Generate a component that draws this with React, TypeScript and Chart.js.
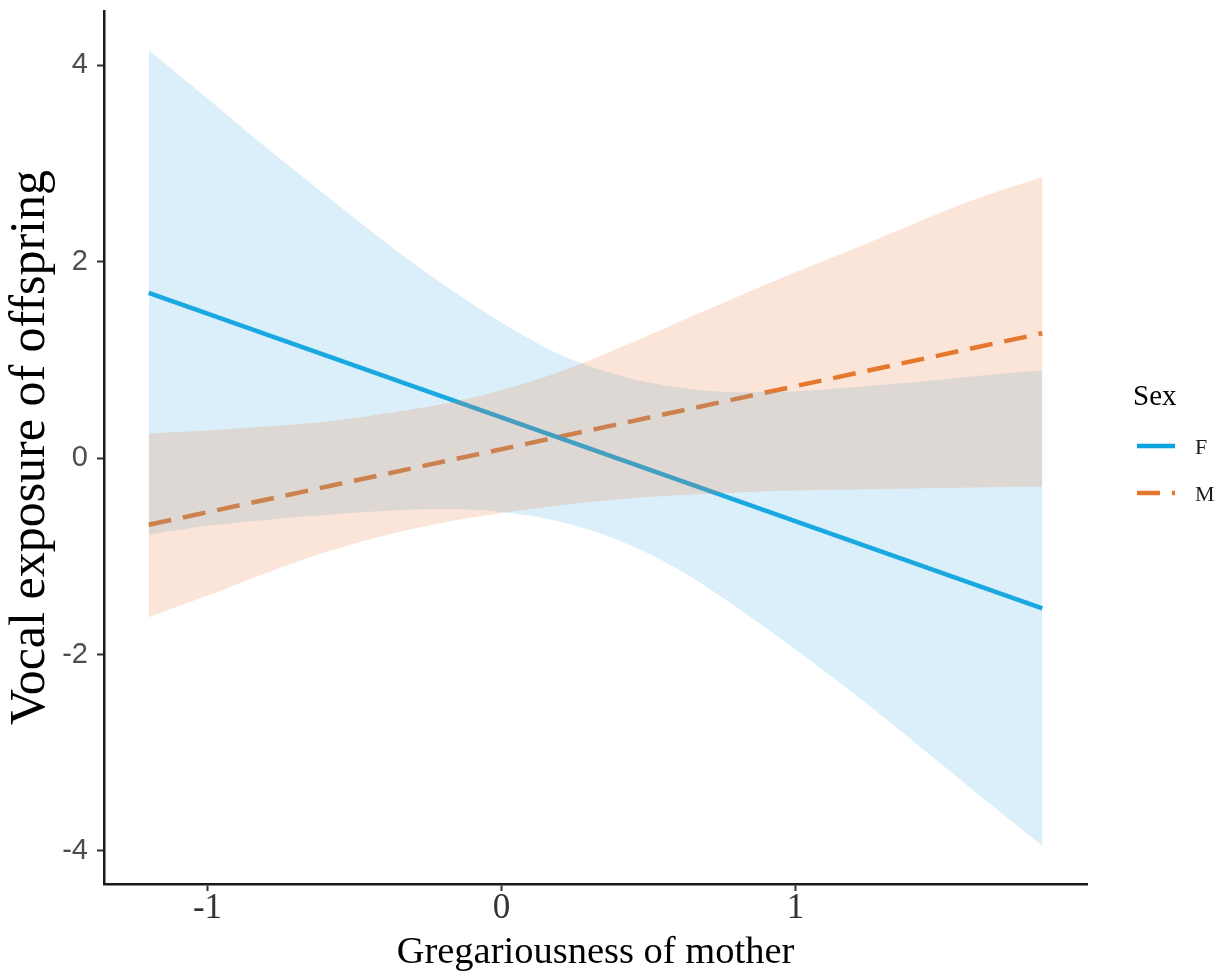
import React, { useEffect, useRef } from "react";
import { Chart, registerables } from "chart.js";

Chart.register(...registerables);

// ---- Data ----
const bandX = [-1.2, -1.0, -0.8, -0.6, -0.4, -0.2, 0.0, 0.2, 0.4, 0.6, 0.8, 1.0, 1.2, 1.4, 1.6, 1.84];
const fUpper = [4.15, 3.66, 3.16, 2.68, 2.21, 1.77, 1.38, 1.05, 0.84, 0.72, 0.67, 0.68, 0.72, 0.77, 0.83, 0.89];
const fLower = [-0.78, -0.69, -0.63, -0.58, -0.54, -0.52, -0.55, -0.65, -0.84, -1.13, -1.52, -1.95, -2.4, -2.88, -3.37, -3.95];
const mUpper = [0.25, 0.28, 0.32, 0.37, 0.45, 0.55, 0.69, 0.88, 1.12, 1.38, 1.64, 1.89, 2.13, 2.38, 2.62, 2.86];
const mLower = [-1.62, -1.4, -1.17, -0.96, -0.79, -0.66, -0.56, -0.48, -0.42, -0.38, -0.35, -0.33, -0.32, -0.31, -0.3, -0.29];

const lineX = [-1.2, 1.84];
const fLine = [1.68, -1.53];
const mLine = [-0.68, 1.27];

const xTicks = [-1, 0, 1];
const yTicks = [-4, -2, 0, 2, 4];
const xRange = [-1.352, 1.992];
const yRange = [-4.336, 4.55];

const legendTitle = "Sex";
const legendLabels = ["F", "M"];
const xTitle = "Gregariousness of mother";
const yTitle = "Vocal exposure of offspring";

// ---- Styles ----
const BLUE = "#0aa5df";
const ORANGE = "#e5782a";
const BLUE_FILL = "rgba(86,180,233,0.22)";
const ORANGE_FILL = "rgba(235,120,60,0.2)";
const DASH = [23, 12];
const SERIF = '"Liberation Serif", "Times New Roman", serif';
const SANS = '"Liberation Sans", Arial, sans-serif';

const pts = (xs: number[], ys: number[]) => xs.map((x, i) => ({ x, y: ys[i] }));

const zeroPad = (s: any) => {
  s.paddingTop = 0;
  s.paddingBottom = 0;
  s.paddingLeft = 0;
  s.paddingRight = 0;
};

export default function App() {
  const ref = useRef<HTMLCanvasElement>(null);

  useEffect(() => {
    const canvas = ref.current;
    if (!canvas) return;

    const legendPlugin = {
      id: "sexLegend",
      afterDraw(chart: any) {
        const ctx = chart.ctx as CanvasRenderingContext2D;
        const left = chart.chartArea.right + 46;
        ctx.save();
        ctx.textAlign = "left";
        ctx.textBaseline = "middle";
        ctx.fillStyle = "#000";
        ctx.font = `29px ${SERIF}`;
        ctx.fillText(legendTitle, left, 397);
        const keyY = [446, 493];
        const colors = [BLUE, ORANGE];
        const dashes = [[], DASH];
        legendLabels.forEach((lab, i) => {
          ctx.save();
          ctx.strokeStyle = colors[i];
          ctx.lineWidth = 4.5;
          ctx.setLineDash(dashes[i] as number[]);
          ctx.beginPath();
          ctx.moveTo(left + 4, keyY[i]);
          ctx.lineTo(left + 42, keyY[i]);
          ctx.stroke();
          ctx.restore();
          ctx.fillStyle = "#1a1a1a";
          ctx.font = `22px ${SERIF}`;
          ctx.fillText(lab, left + 62, keyY[i] + 2);
        });
        ctx.restore();
      },
    };

    const band = {
      pointRadius: 0,
      borderWidth: 0,
      borderColor: "transparent",
      cubicInterpolationMode: "monotone" as const,
    };

    const chart = new Chart(canvas, {
      type: "line",
      data: {
        datasets: [
          {
            label: "F",
            data: pts(lineX, fLine),
            borderColor: BLUE,
            borderWidth: 4.5,
            pointRadius: 0,
            fill: false,
            order: 3,
          },
          {
            label: "M",
            data: pts(lineX, mLine),
            borderColor: ORANGE,
            borderWidth: 4.5,
            borderDash: DASH,
            pointRadius: 0,
            fill: false,
            order: 3,
          },
          { label: "F lower", data: pts(bandX, fLower), ...band, fill: false, order: 2 },
          { label: "F upper", data: pts(bandX, fUpper), ...band, fill: "-1", backgroundColor: BLUE_FILL, order: 2 },
          { label: "M lower", data: pts(bandX, mLower), ...band, fill: false, order: 1 },
          { label: "M upper", data: pts(bandX, mUpper), ...band, fill: "-1", backgroundColor: ORANGE_FILL, order: 1 },
        ],
      },
      options: {
        animation: false,
        responsive: false,
        devicePixelRatio: 1,
        events: [],
        layout: { autoPadding: false, padding: { left: 0, right: 142, top: 11, bottom: 0 } },
        plugins: {
          legend: { display: false },
          tooltip: { enabled: false },
        },
        scales: {
          x: {
            type: "linear",
            min: xRange[0],
            max: xRange[1],
            afterBuildTicks: (s: any) => {
              s.ticks = xTicks.map((v) => ({ value: v }));
            },
            afterFit: (s: any) => {
              s.height = 94;
              zeroPad(s);
            },
            grid: {
              display: true,
              drawOnChartArea: false,
              drawTicks: true,
              tickLength: 7,
              tickWidth: 2,
              tickColor: "#333",
            },
            border: { display: true, color: "#1a1a1a", width: 2.5 },
            ticks: {
              color: "#333",
              padding: 0,
              maxRotation: 0,
              font: { family: SERIF, size: 35, lineHeight: 1 },
              callback: (v: any) => String(v),
            },
            title: {
              display: true,
              text: xTitle,
              color: "#000",
              font: { family: SERIF, size: 38.5, lineHeight: 1 },
              padding: { top: 0, bottom: 6 },
            },
          },
          y: {
            type: "linear",
            min: yRange[0],
            max: yRange[1],
            afterBuildTicks: (s: any) => {
              s.ticks = yTicks.map((v) => ({ value: v }));
            },
            afterFit: (s: any) => {
              s.width = 104;
              zeroPad(s);
            },
            grid: {
              display: true,
              drawOnChartArea: false,
              drawTicks: true,
              tickLength: 7,
              tickWidth: 2,
              tickColor: "#333",
            },
            border: { display: true, color: "#1a1a1a", width: 2.5 },
            ticks: {
              color: "#4d4d4d",
              padding: 9,
              font: { family: SANS, size: 29, lineHeight: 1 },
              callback: (v: any) => String(v),
            },
            title: {
              display: true,
              text: yTitle,
              color: "#000",
              font: { family: SERIF, size: 50, lineHeight: 1 },
              padding: { top: 6, bottom: 0 },
            },
          },
        },
      },
      plugins: [legendPlugin],
    });

    return () => chart.destroy();
  }, []);

  return (
    <div style={{ position: "absolute", left: 0, top: 0, width: 1229, height: 978 }}>
      <canvas ref={ref} width={1229} height={978} style={{ width: "1229px", height: "978px", display: "block" }} />
    </div>
  );
}
